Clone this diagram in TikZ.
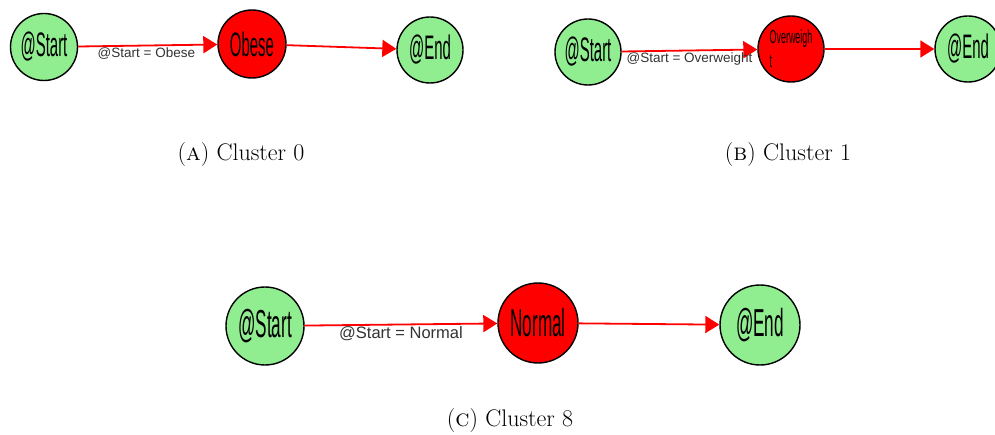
\documentclass[tikz,border=0pt]{standalone}
\usepackage{fontspec}
\usetikzlibrary{arrows.meta}
\newfontfamily\labfont{Liberation Sans}
% condensed node captions
\newcommand{\narrowtext}[1]{\scalebox{0.44}[1]{#1}}
\definecolor{stategreen}{RGB}{144,238,144}
\tikzset{
  statebase/.style={circle, draw=black, line width=1.4pt, inner sep=0pt,
    text=black, font=\labfont\fontsize{34}{36}\selectfont},
  greennode/.style={statebase, fill=stategreen},
  rednode/.style={statebase, fill=red},
  flow/.style={draw=red, line width=1.8pt,
    -{Triangle[length=14pt,width=17pt]}},
  edgelabel/.style={font=\labfont\fontsize{13.5}{15}\selectfont,
    text=black!80, inner sep=1.5pt},
  caption/.style={font=\fontsize{24}{28}\selectfont}
}
\begin{document}
\begin{tikzpicture}[x=1pt, y=-1pt]
\useasboundingbox (0,0) rectangle (995,435);

% (a) cluster 0
\node[greennode, minimum size=67pt] (as) at (44,47) {\narrowtext{@Start}};
\node[rednode, minimum size=68pt] (am) at (252,44) {\narrowtext{Obese}};
\node[greennode, minimum size=66pt] (ae) at (430,50) {\narrowtext{@End}};
\draw[flow] (as) -- node[edgelabel, below, pos=0.49] {@Start = Obese} (am);
\draw[flow] (am) -- (ae);
\node[caption] (ca) at (241,155) {(\textsc{a}) Cluster 0};

% (b) cluster 1
\node[greennode, minimum size=66pt] (bs) at (588,52) {\narrowtext{@Start}};
\node[rednode, minimum size=66pt, align=left,
      font=\labfont\fontsize{19}{24}\selectfont] (bm) at (791,49)
      {\scalebox{0.47}[1]{Overweigh}\\\scalebox{0.47}[1]{t}};
\node[greennode, minimum size=66pt] (be) at (968,49) {\narrowtext{@End}};
\draw[flow] (bs) -- node[edgelabel, below] {@Start = Overweight} (bm);
\draw[flow] (bm) -- (be);
\node[caption] (cb) at (788,155) {(\textsc{b}) Cluster 1};

% (c) cluster 8
\node[greennode, minimum size=78pt,
      font=\labfont\fontsize{39}{41}\selectfont] (cs) at (265,326) {\narrowtext{@Start}};
\node[rednode, minimum size=80pt,
      font=\labfont\fontsize{39}{41}\selectfont] (cm) at (538,323) {\narrowtext{Normal}};
\node[greennode, minimum size=80pt,
      font=\labfont\fontsize{39}{41}\selectfont] (ce) at (760,325) {\narrowtext{@End}};
\draw[flow] (cs) -- node[edgelabel, below, font=\labfont\fontsize{16.5}{18}\selectfont] {@Start = Normal} (cm);
\draw[flow] (cm) -- (ce);
\node[caption] (cc) at (510,421) {(\textsc{c}) Cluster 8};
\end{tikzpicture}
\end{document}
